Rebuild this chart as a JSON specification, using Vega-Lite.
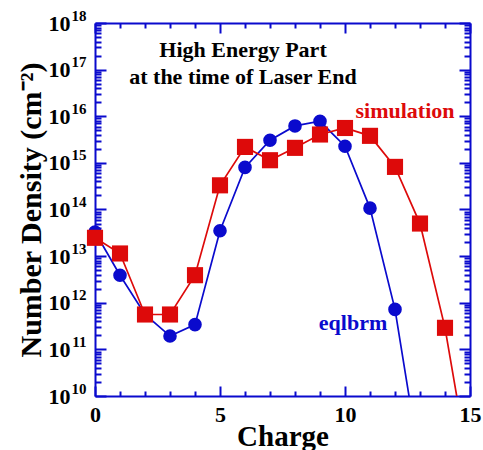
{
  "$schema": "https://vega.github.io/schema/vega-lite/v6.json",
  "autosize": {"type": "none"},
  "padding": {"left": 95, "top": 23, "right": 13, "bottom": 54},
  "width": 375,
  "height": 373,
  "background": "white",
  "config": {"view": {"stroke": null}, "font": "Liberation Serif"},
  "data": {
    "values": [
      {"Charge": 0, "Density": 3.3e13, "Series": "eqlbrm"},
      {"Charge": 1, "Density": 3.9e12, "Series": "eqlbrm"},
      {"Charge": 2, "Density": 5.6e11, "Series": "eqlbrm"},
      {"Charge": 3, "Density": 1.93e11, "Series": "eqlbrm"},
      {"Charge": 4, "Density": 3.4e11, "Series": "eqlbrm"},
      {"Charge": 5, "Density": 3.5e13, "Series": "eqlbrm"},
      {"Charge": 6, "Density": 8.0e14, "Series": "eqlbrm"},
      {"Charge": 7, "Density": 3.06e15, "Series": "eqlbrm"},
      {"Charge": 8, "Density": 6.2e15, "Series": "eqlbrm"},
      {"Charge": 9, "Density": 7.8e15, "Series": "eqlbrm"},
      {"Charge": 10, "Density": 2.28e15, "Series": "eqlbrm"},
      {"Charge": 11, "Density": 1.07e14, "Series": "eqlbrm"},
      {"Charge": 12, "Density": 7.2e11, "Series": "eqlbrm"},
      {"Charge": 13, "Density": 3.5e8, "Series": "eqlbrm"},
      {"Charge": 0, "Density": 2.47e13, "Series": "simulation"},
      {"Charge": 1, "Density": 1.14e13, "Series": "simulation"},
      {"Charge": 2, "Density": 5.6e11, "Series": "simulation"},
      {"Charge": 3, "Density": 5.6e11, "Series": "simulation"},
      {"Charge": 4, "Density": 3.9e12, "Series": "simulation"},
      {"Charge": 5, "Density": 3.3e14, "Series": "simulation"},
      {"Charge": 6, "Density": 2.2e15, "Series": "simulation"},
      {"Charge": 7, "Density": 1.14e15, "Series": "simulation"},
      {"Charge": 8, "Density": 2.1e15, "Series": "simulation"},
      {"Charge": 9, "Density": 4.06e15, "Series": "simulation"},
      {"Charge": 10, "Density": 5.6e15, "Series": "simulation"},
      {"Charge": 11, "Density": 3.8e15, "Series": "simulation"},
      {"Charge": 12, "Density": 8.2e14, "Series": "simulation"},
      {"Charge": 13, "Density": 5.0e13, "Series": "simulation"},
      {"Charge": 14, "Density": 2.9e11, "Series": "simulation"},
      {"Charge": 15, "Density": 2.2e8, "Series": "simulation"}
    ]
  },
  "resolve": {"axis": {"x": "independent", "y": "independent"}},
  "layer": [
    {
      "transform": [{"filter": "datum.Series === 'eqlbrm'"}],
      "mark": {"type": "line", "color": "#0a0acd", "strokeWidth": 1.7, "clip": true},
      "encoding": {
        "x": {"field": "Charge", "type": "quantitative", "scale": {"domain": [0, 15], "nice": false, "zero": false},
          "axis": {"orient": "bottom", "values": [0, 5, 10, 15], "ticks": false, "tickSize": 0, "grid": false,
            "domain": true, "domainColor": "#0a0acd", "domainWidth": 2,
            "labelFont": "Liberation Serif", "labelFontWeight": "bold", "labelFontSize": 22, "labelColor": "black",
            "labelPadding": 8, "labelFlush": false, "labelOverlap": false,
            "title": "Charge", "titleFont": "Liberation Serif", "titleFontWeight": "bold", "titleFontSize": 29, "titleColor": "black",
            "titleY": 49, "titleBaseline": "alphabetic"}},
        "y": {"field": "Density", "type": "quantitative", "scale": {"type": "log", "domain": [1e10, 1e18], "nice": false},
          "axis": {"orient": "left", "values": [1e10, 1e11, 1e12, 1e13, 1e14, 1e15, 1e16, 1e17, 1e18],
            "labelExpr": "'10'",
            "ticks": false, "tickSize": 0, "grid": false,
            "domain": true, "domainColor": "#0a0acd", "domainWidth": 2,
            "labelFont": "Liberation Serif", "labelFontWeight": "bold", "labelFontSize": 22, "labelColor": "black",
            "labelPadding": 25, "labelFlush": false, "labelOverlap": false,
            "title": "Number Density (cm⁻²)", "titleFont": "Liberation Serif", "titleFontWeight": "bold", "titleFontSize": 30, "titleColor": "black",
            "titleX": -55, "titleY": 186.5, "titleAngle": 270, "titleAlign": "center", "titleBaseline": "alphabetic"}}
      }
    },
    {
      "transform": [{"filter": "datum.Series === 'eqlbrm' && datum.Density >= 1e10"}],
      "mark": {"type": "point", "shape": "circle", "filled": true, "opacity": 1, "color": "#0a0acd", "size": 185},
      "encoding": {
        "x": {"field": "Charge", "type": "quantitative",
          "axis": {"orient": "top", "offset": -373, "values": [0,1,2,3,4,5,6,7,8,9,10,11,12,13,14,15],
            "labels": false, "domain": false, "grid": false, "title": null,
            "tickColor": "#0a0acd", "tickWidth": 2,
            "tickSize": {"condition": {"test": "datum.value % 5 === 0", "value": 10}, "value": 5}}},
        "y": {"field": "Density", "type": "quantitative",
          "axis": {"orient": "right", "offset": -375,
            "values": [1e10,2e10,3e10,4e10,5e10,6e10,7e10,8e10,9e10,1e11,2e11,3e11,4e11,5e11,6e11,7e11,8e11,9e11,1e12,2e12,3e12,4e12,5e12,6e12,7e12,8e12,9e12,1e13,2e13,3e13,4e13,5e13,6e13,7e13,8e13,9e13,1e14,2e14,3e14,4e14,5e14,6e14,7e14,8e14,9e14,1e15,2e15,3e15,4e15,5e15,6e15,7e15,8e15,9e15,1e16,2e16,3e16,4e16,5e16,6e16,7e16,8e16,9e16,1e17,2e17,3e17,4e17,5e17,6e17,7e17,8e17,9e17,1e18],
            "labels": false, "domain": false, "grid": false, "title": null,
            "tickColor": "#0a0acd", "tickWidth": 2,
            "tickSize": {"condition": {"test": "abs(log(datum.value)/LN10 - round(log(datum.value)/LN10)) < 0.001", "value": 11}, "value": 6}}}
      }
    },
    {
      "transform": [{"filter": "datum.Series === 'simulation'"}],
      "mark": {"type": "line", "color": "#dd0a0a", "strokeWidth": 1.7, "clip": true},
      "encoding": {
        "x": {"field": "Charge", "type": "quantitative",
          "axis": {"orient": "bottom", "offset": -373, "values": [0,1,2,3,4,5,6,7,8,9,10,11,12,13,14,15],
            "labels": false, "domain": true, "domainColor": "#0a0acd", "domainWidth": 2, "grid": false, "title": null,
            "tickColor": "#0a0acd", "tickWidth": 2,
            "tickSize": {"condition": {"test": "datum.value % 5 === 0", "value": 10}, "value": 5}}},
        "y": {"field": "Density", "type": "quantitative",
          "axis": {"orient": "left", "offset": -375,
            "values": [1e10,2e10,3e10,4e10,5e10,6e10,7e10,8e10,9e10,1e11,2e11,3e11,4e11,5e11,6e11,7e11,8e11,9e11,1e12,2e12,3e12,4e12,5e12,6e12,7e12,8e12,9e12,1e13,2e13,3e13,4e13,5e13,6e13,7e13,8e13,9e13,1e14,2e14,3e14,4e14,5e14,6e14,7e14,8e14,9e14,1e15,2e15,3e15,4e15,5e15,6e15,7e15,8e15,9e15,1e16,2e16,3e16,4e16,5e16,6e16,7e16,8e16,9e16,1e17,2e17,3e17,4e17,5e17,6e17,7e17,8e17,9e17,1e18],
            "labels": false, "domain": true, "domainColor": "#0a0acd", "domainWidth": 2, "grid": false, "title": null,
            "tickColor": "#0a0acd", "tickWidth": 2,
            "tickSize": {"condition": {"test": "abs(log(datum.value)/LN10 - round(log(datum.value)/LN10)) < 0.001", "value": 11}, "value": 6}}}
      }
    },
    {
      "transform": [{"filter": "datum.Series === 'simulation' && datum.Density >= 1e10"}],
      "mark": {"type": "point", "shape": "square", "filled": true, "opacity": 1, "color": "#dd0a0a", "size": 260},
      "encoding": {
        "x": {"field": "Charge", "type": "quantitative", "axis": null},
        "y": {"field": "Density", "type": "quantitative",
          "axis": {"orient": "left", "values": [1e10, 1e11, 1e12, 1e13, 1e14, 1e15, 1e16, 1e17, 1e18],
            "labelExpr": "format(round(log(datum.value)/LN10), 'd')",
            "ticks": false, "tickSize": 0, "grid": false, "domain": false, "title": null,
            "labelFont": "Liberation Serif", "labelFontWeight": "bold", "labelFontSize": 15, "labelColor": "black",
            "labelPadding": 9, "labelOffset": -8, "labelFlush": false, "labelOverlap": false}}
      }
    },
    {
      "data": {"values": [{}]},
      "mark": {"type": "text", "text": "High Energy Part", "font": "Liberation Serif", "fontWeight": "bold", "fontSize": 22, "color": "black", "align": "center", "baseline": "alphabetic"},
      "encoding": {
        "x": {"datum": 5.92, "type": "quantitative", "axis": null},
        "y": {"datum": 1.87e17, "type": "quantitative", "axis": null}
      }
    },
    {
      "data": {"values": [{}]},
      "mark": {"type": "text", "text": "at the time of Laser End", "font": "Liberation Serif", "fontWeight": "bold", "fontSize": 22, "color": "black", "align": "center", "baseline": "alphabetic"},
      "encoding": {
        "x": {"datum": 5.92, "type": "quantitative", "axis": null},
        "y": {"datum": 4.85e16, "type": "quantitative", "axis": null}
      }
    },
    {
      "data": {"values": [{}]},
      "mark": {"type": "text", "text": "simulation", "font": "Liberation Serif", "fontWeight": "bold", "fontSize": 22, "color": "#dd0a0a", "align": "center", "baseline": "alphabetic"},
      "encoding": {
        "x": {"datum": 12.4, "type": "quantitative", "axis": null},
        "y": {"datum": 9.2e15, "type": "quantitative", "axis": null}
      }
    },
    {
      "data": {"values": [{}]},
      "mark": {"type": "text", "text": "eqlbrm", "font": "Liberation Serif", "fontWeight": "bold", "fontSize": 22, "color": "#0a0acd", "align": "center", "baseline": "alphabetic"},
      "encoding": {
        "x": {"datum": 10.32, "type": "quantitative", "axis": null},
        "y": {"datum": 2.6e11, "type": "quantitative", "axis": null}
      }
    }
  ]
}
